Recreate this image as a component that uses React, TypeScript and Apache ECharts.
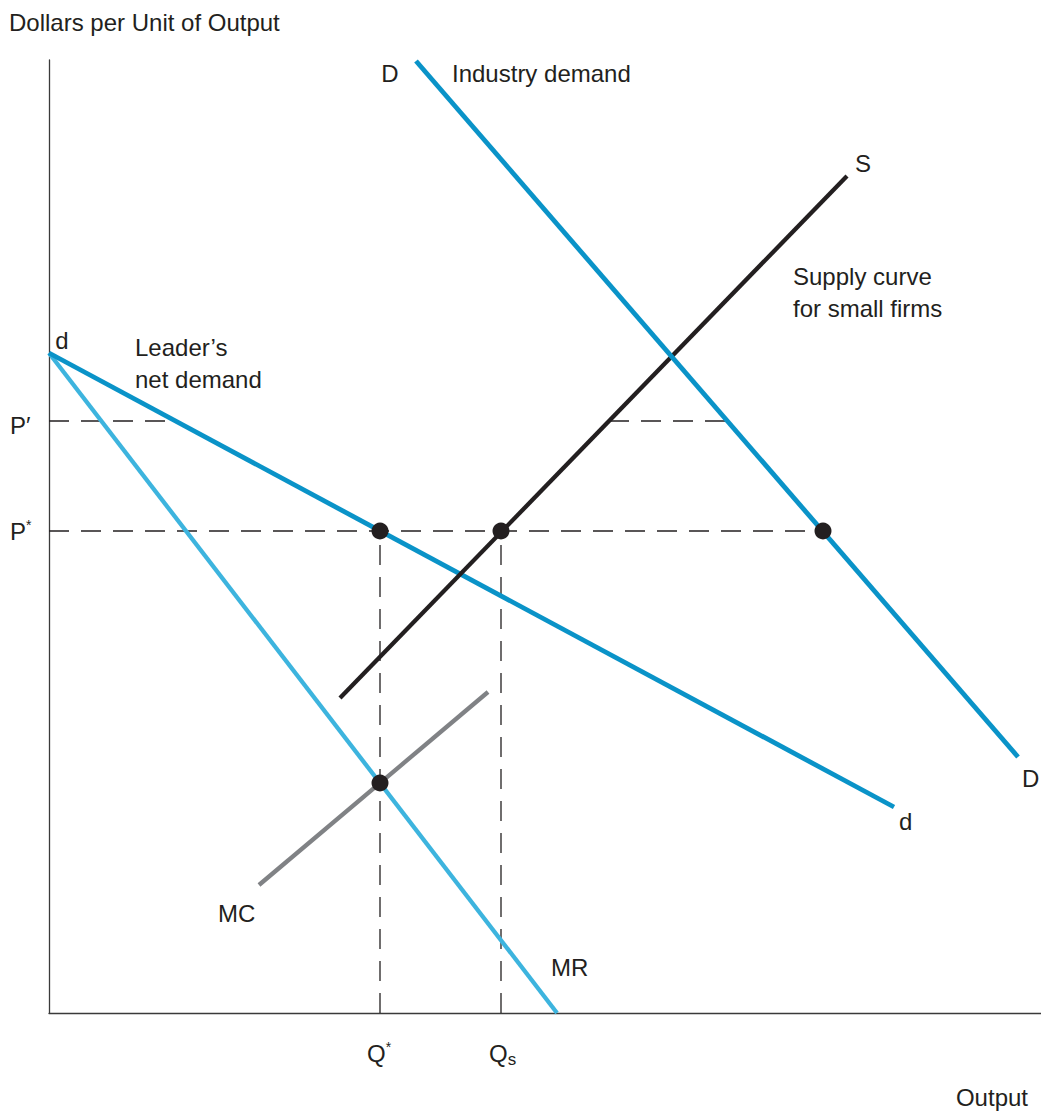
import React, { useEffect, useRef } from "react";
import * as echarts from "echarts";

// Units: x = output, y = dollars per unit (arbitrary diagram units)
const X_MAX = 99.2;
const Y_MAX = 95.3;

const industryDemand = [[36.7, 95.2], [96.9, 25.6]];
const supplySmall = [[29.1, 31.5], [79.8, 83.7]];
const leaderDemand = [[0, 66.0], [84.5, 20.6]];
const marginalRevenue = [[0, 66.0], [50.8, 0]];
const marginalCost = [[21.0, 12.8], [43.9, 32.1]];

const P_PRIME = 59.2;
const P_STAR = 48.2;
const Q_STAR = 33.1;
const Q_S = 45.2;

// horizontal dashed segments at P'
const pPrimeSeg1 = [[0, P_PRIME], [12.7, P_PRIME]];
const pPrimeSeg2 = [[56.0, P_PRIME], [67.8, P_PRIME]];
// horizontal dashed at P*
const pStarSeg = [[0, P_STAR], [77.4, P_STAR]];
// vertical dashed
const qStarSeg = [[Q_STAR, 0], [Q_STAR, P_STAR]];
const qSSeg = [[Q_S, 0], [Q_S, P_STAR]];

const dots = [[Q_STAR, P_STAR], [Q_S, P_STAR], [77.4, P_STAR], [Q_STAR, 23.0]];

const FONT = '"Liberation Sans", Arial, Helvetica, sans-serif';
const TXT = "#231f20";
const FS = 24;

export default function App() {
  const ref = useRef<HTMLDivElement>(null);
  useEffect(() => {
    document.body.style.margin = "0";
    const chart = echarts.init(ref.current!, null, { renderer: "svg" });
    const dash = { type: [20, 12], color: TXT, width: 1.3 };
    const line = (name: string, data: number[][], color: string, width: number, z = 3) => ({
      type: "line",
      name,
      data,
      symbol: "none",
      z,
      lineStyle: { color, width, cap: "butt" },
      silent: true,
    });
    const dashed = (name: string, data: number[][]) => ({
      type: "line",
      name,
      data,
      symbol: "none",
      z: 1,
      lineStyle: dash,
      silent: true,
    });
    const text = (t: string, x: number, y: number, align: string = "left", extra: any = {}) => ({
      type: "text",
      x,
      y,
      style: {
        text: t,
        font: `${FS}px ${FONT}`,
        fill: TXT,
        align,
        verticalAlign: "middle",
        ...extra,
      },
    });
    chart.setOption({
      animation: false,
      grid: { left: 49, right: 0, top: 60, bottom: 101, containLabel: false },
      xAxis: {
        type: "value",
        min: 0,
        max: X_MAX,
        axisLine: { show: true, lineStyle: { color: "#3a3a3a", width: 1.3 } },
        axisTick: { show: false },
        axisLabel: { show: false },
        splitLine: { show: false },
      },
      yAxis: {
        type: "value",
        min: 0,
        max: Y_MAX,
        axisLine: { show: true, lineStyle: { color: "#3a3a3a", width: 1.3 } },
        axisTick: { show: false },
        axisLabel: { show: false },
        splitLine: { show: false },
      },
      series: [
        dashed("pPrime1", pPrimeSeg1),
        dashed("pPrime2", pPrimeSeg2),
        dashed("pStar", pStarSeg),
        dashed("qStar", qStarSeg),
        dashed("qS", qSSeg),
        line("MR", marginalRevenue, "#3db4de", 4.3, 3),
        line("MC", marginalCost, "#808285", 4.3, 3),
        line("d", leaderDemand, "#0a93c8", 4.8, 4),
        line("S", supplySmall, "#231f20", 4.3, 4),
        line("D", industryDemand, "#0a93c8", 4.8, 4),
        {
          type: "scatter",
          data: dots,
          symbol: "circle",
          symbolSize: 17,
          itemStyle: { color: "#231f20", opacity: 1 },
          z: 10,
          silent: true,
        },
      ],
      graphic: [
        text("Dollars per Unit of Output", 9, 22),
        text("D", 390, 73, "center"),
        text("Industry demand", 452, 73),
        text("S", 863, 163, "center"),
        text("Supply curve", 793, 276),
        text("for small firms", 793, 308),
        text("d", 62, 340, "center"),
        text("Leader\u2019s", 135, 347),
        text("net demand", 135, 379),
        text("P\u2032", 10, 425),
        {
          type: "text",
          x: 10,
          y: 531,
          style: {
            text: "{b|P}{s|*}",
            fill: TXT,
            verticalAlign: "middle",
            rich: {
              b: { font: `${FS}px ${FONT}`, fill: TXT },
              s: { font: `14px ${FONT}`, fill: TXT, padding: [0, 0, 12, 0] },
            },
          },
        },
        {
          type: "text",
          x: 367,
          y: 1053,
          style: {
            text: "{b|Q}{s|*}",
            fill: TXT,
            verticalAlign: "middle",
            rich: {
              b: { font: `${FS}px ${FONT}`, fill: TXT },
              s: { font: `14px ${FONT}`, fill: TXT, padding: [0, 0, 12, 0] },
            },
          },
        },
        {
          type: "text",
          x: 489,
          y: 1053,
          style: {
            text: "{b|Q}{s|s}",
            fill: TXT,
            verticalAlign: "middle",
            rich: {
              b: { font: `${FS}px ${FONT}`, fill: TXT },
              s: { font: `17px ${FONT}`, fill: TXT, padding: [13, 0, 0, 0] },
            },
          },
        },
        text("MC", 218, 913),
        text("MR", 551, 967),
        text("D", 1022, 778),
        text("d", 899, 821),
        text("Output", 1028, 1097, "right"),
      ],
    });
    return () => chart.dispose();
  }, []);
  return <div ref={ref} style={{ width: 1041, height: 1114 }} />;
}
